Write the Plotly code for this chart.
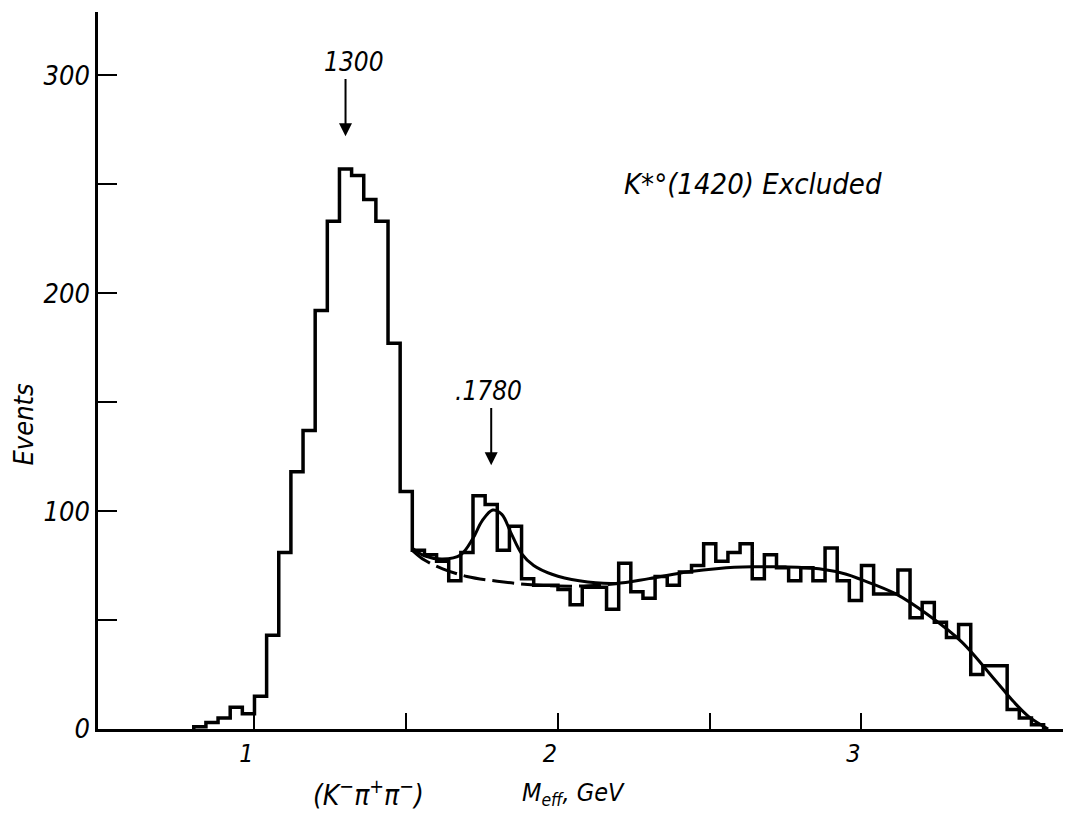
import numpy as np
import plotly.graph_objects as go

# K- pi+ pi- effective-mass histogram, 40 MeV bins starting at 0.80 GeV
BIN_START = 0.80
BIN_WIDTH = 0.04
COUNTS = [
    1, 3, 5, 10, 7, 15,
    43, 81, 118, 137, 192, 233, 257, 254, 243, 233, 177, 109,
    82, 80, 77, 68, 81, 107, 103, 82, 93, 69, 66, 66,
    64, 57, 65, 65, 55, 76, 63, 60, 70, 66, 72, 75,
    85, 77, 81, 85, 69, 80, 74, 68, 74, 68, 83, 68,
    59, 75, 62, 62, 73, 51, 58, 49, 42, 48, 25, 29,
    29, 9, 5, 2,
]

# fitted curve: background + resonance at 1780 MeV
FIT_MASS = [1.52, 1.56, 1.62, 1.68, 1.72, 1.75, 1.785, 1.815, 1.845, 1.88,
            1.92, 1.98, 2.07, 2.19, 2.30, 2.43, 2.53, 2.64, 2.75, 2.86,
            2.95, 3.00, 3.11, 3.22, 3.33, 3.44, 3.50, 3.55, 3.615]
FIT_EVENTS = [83, 79.5, 78, 80, 87.5, 95.5, 100.5, 98.5, 90, 80.5,
              75, 71, 68, 66.8, 69, 72.2, 73.7, 74.4, 74.4, 73.5,
              71, 68.5, 62.2, 52.3, 40, 22.5, 12.7, 5.8, 0]

# background alone under the 1780 bump
BKG_MASS = [1.52, 1.56, 1.62, 1.70, 1.80, 1.90, 2.00, 2.10, 2.20]
BKG_EVENTS = [82, 77.5, 73.5, 70, 67.8, 66.3, 65.6, 65.7, 66.8]

# marked resonances: mass (GeV), arrow tip / tail and label height (events)
PEAK_MASS = [1.300, 1.780]
PEAK_TIP = [272, 121]
PEAK_TAIL = [299, 148]
PEAK_TEXT = ["1300", ".1780"]
PEAK_TEXT_Y = [306, 155]
PEAK_TEXT_SHIFT = [8, -3]

X_TICKS = [1, 2, 3]
X_MINOR = [1.5, 2.5]
Y_TICKS = [0, 100, 200, 300]
Y_MINOR = [50, 150, 250]

FONT = "Liberation Sans Narrow, DejaVu Sans Condensed, Liberation Sans, sans-serif"

edges = BIN_START + BIN_WIDTH * np.arange(len(COUNTS) + 1)
step_x = np.concatenate([[edges[0]], edges])
step_y = [0] + COUNTS + [0]

fig = go.Figure()
fig.add_trace(go.Scatter(
    x=step_x, y=step_y, mode="lines", line_shape="hv",
    line=dict(color="black", width=3.5), showlegend=False, hoverinfo="skip"))
fig.add_trace(go.Scatter(
    x=BKG_MASS, y=BKG_EVENTS, mode="lines", line_shape="spline",
    line=dict(color="black", width=3, dash="22px,7px"), showlegend=False))
fig.add_trace(go.Scatter(
    x=FIT_MASS, y=FIT_EVENTS, mode="lines", line_shape="spline",
    line=dict(color="black", width=3), showlegend=False))

for m, tip, tail, txt, ty, sh in zip(PEAK_MASS, PEAK_TIP, PEAK_TAIL,
                                     PEAK_TEXT, PEAK_TEXT_Y, PEAK_TEXT_SHIFT):
    fig.add_annotation(x=m, y=tip, ax=m, ay=tail, axref="x", ayref="y",
                       xref="x", yref="y", text="", showarrow=True,
                       arrowhead=2, arrowsize=1.3, arrowwidth=2, arrowcolor="black")
    fig.add_annotation(x=m, y=ty, xref="x", yref="y", text=txt, showarrow=False,
                       xshift=sh, xanchor="center", yanchor="middle",
                       font=dict(family=FONT, size=26, color="black", style="italic"))

fig.add_annotation(x=2.643, y=250, xref="x", yref="y", text="K*°(1420) Excluded",
                   showarrow=False, xanchor="center", yanchor="middle",
                   font=dict(family=FONT, size=29, color="black", style="italic"))

fig.add_annotation(x=-0.077, y=0.4256, xref="paper", yref="paper", text="Events",
                   textangle=-90, showarrow=False, xanchor="center", yanchor="middle",
                   font=dict(family=FONT, size=27, color="black", style="italic"))
fig.add_annotation(x=0.2798, y=-0.0903, xref="paper", yref="paper",
                   text="(K<sup>−</sup>π<sup>+</sup>π<sup>−</sup>)", showarrow=False,
                   xanchor="center", yanchor="middle",
                   font=dict(family=FONT, size=28, color="black", style="italic"))
fig.add_annotation(x=0.493, y=-0.0903, xref="paper", yref="paper",
                   text="M<sub>eff</sub>, GeV", showarrow=False,
                   xanchor="center", yanchor="middle",
                   font=dict(family=FONT, size=25, color="black", style="italic"))

fig.update_layout(
    width=1065, height=818, autosize=False,
    margin=dict(l=98, r=2, t=12, b=89),
    paper_bgcolor="white", plot_bgcolor="white",
    xaxis=dict(range=[0.4844, 3.664], showline=True, linecolor="black", linewidth=2.5,
               ticks="inside", ticklen=16, tickwidth=2, tickcolor="black",
               tickvals=X_TICKS, ticklabelshift=-8,
               minor=dict(tickvals=X_MINOR, ticks="inside", ticklen=16,
                          tickwidth=2, tickcolor="black", showgrid=False),
               showgrid=False, zeroline=False,
               tickfont=dict(family=FONT, size=25, color="black", style="italic")),
    yaxis=dict(range=[0, 329], showline=True, linecolor="black", linewidth=2.5,
               ticks="inside", ticklen=19, tickwidth=2, tickcolor="black",
               tickvals=Y_TICKS,
               minor=dict(tickvals=Y_MINOR, ticks="inside", ticklen=19,
                          tickwidth=2, tickcolor="black", showgrid=False),
               showgrid=False, zeroline=False,
               tickfont=dict(family=FONT, size=27, color="black", style="italic")),
)

fig.write_html("out.html")
